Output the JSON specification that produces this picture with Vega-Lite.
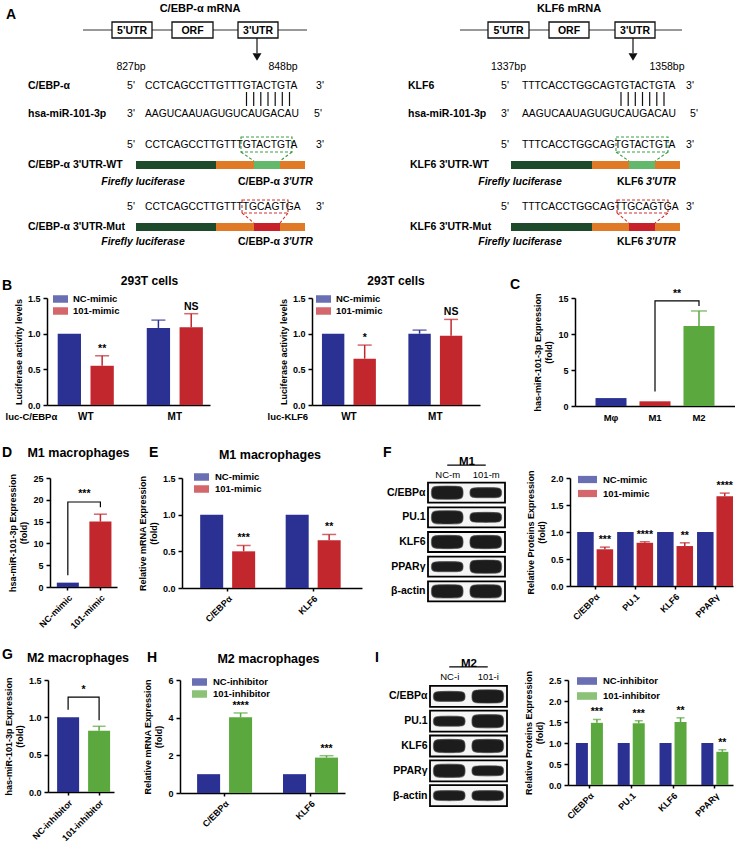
{
  "$schema": "https://vega.github.io/schema/vega-lite/v6.json",
  "padding": 0,
  "background": "white",
  "spacing": 0,
  "align": "each",
  "resolve": {"scale": {"color": "independent", "xOffset": "independent", "shape": "independent", "stroke": "independent"}, "legend": {"color": "independent"}},
  "config": {
    "font": "Liberation Sans",
    "view": {"stroke": null},
    "axis": {"grid": false, "labelOverlap": false, "domainColor": "#000", "domainWidth": 1.5, "tickColor": "#000", "tickWidth": 1.5, "tickSize": 4, "labelColor": "#000", "labelFontWeight": "bold", "labelFontSize": 9, "labelPadding": 3, "titleColor": "#000", "titleFontWeight": "bold", "titleFontSize": 9, "titlePadding": 4},
    "title": {"fontSize": 12.5, "fontWeight": "bold", "color": "#000", "anchor": "middle", "frame": "group", "baseline": "alphabetic"},
    "text": {"color": "#000"}
  },
  "datasets": {
    "s_rule_h": [{"x": 83, "x2": 307, "y": 30}, {"x": 460, "x2": 682, "y": 30}],
    "s_rule_v": [
      {"x": 246.5, "y": 92, "y2": 106}, {"x": 253.7, "y": 92, "y2": 106}, {"x": 260.8, "y": 92, "y2": 106}, {"x": 268, "y": 92, "y2": 106}, {"x": 275.2, "y": 92, "y2": 106}, {"x": 282.3, "y": 92, "y2": 106}, {"x": 289.5, "y": 92, "y2": 106},
      {"x": 621, "y": 92, "y2": 106}, {"x": 628.2, "y": 92, "y2": 106}, {"x": 635.3, "y": 92, "y2": 106}, {"x": 642.5, "y": 92, "y2": 106}, {"x": 649.7, "y": 92, "y2": 106}, {"x": 656.8, "y": 92, "y2": 106}, {"x": 664, "y": 92, "y2": 106},
      {"x": 257, "y": 38, "y2": 53}, {"x": 633, "y": 38, "y2": 53}
    ],
    "s_arrow": [{"x": 257, "y": 57}, {"x": 633, "y": 57}],
    "s_box": [
      {"x": 112, "x2": 152, "y": 22, "y2": 38}, {"x": 172, "x2": 213, "y": 22, "y2": 38}, {"x": 238, "x2": 278, "y": 22, "y2": 38},
      {"x": 488, "x2": 529, "y": 22, "y2": 38}, {"x": 549, "x2": 589, "y": 22, "y2": 38}, {"x": 615, "x2": 655, "y": 22, "y2": 38}
    ],
    "s_bar": [
      {"x": 136, "x2": 216, "y": 161, "y2": 169, "p": "luc"}, {"x": 216, "x2": 305, "y": 161, "y2": 169, "p": "utr"}, {"x": 254, "x2": 280, "y": 161, "y2": 169, "p": "wt"},
      {"x": 136, "x2": 216, "y": 223, "y2": 231, "p": "luc"}, {"x": 216, "x2": 305, "y": 223, "y2": 231, "p": "utr"}, {"x": 254, "x2": 280, "y": 223, "y2": 231, "p": "mut"},
      {"x": 511, "x2": 592, "y": 161, "y2": 169, "p": "luc"}, {"x": 592, "x2": 680, "y": 161, "y2": 169, "p": "utr"}, {"x": 629, "x2": 655, "y": 161, "y2": 169, "p": "wt"},
      {"x": 511, "x2": 592, "y": 223, "y2": 231, "p": "luc"}, {"x": 592, "x2": 680, "y": 223, "y2": 231, "p": "utr"}, {"x": 629, "x2": 655, "y": 223, "y2": 231, "p": "mut"}
    ],
    "s_dash_box": [
      {"x": 241, "x2": 292, "y": 137, "y2": 152, "k": "wt"}, {"x": 242, "x2": 288, "y": 200, "y2": 213, "k": "mut"},
      {"x": 616, "x2": 668, "y": 137, "y2": 152, "k": "wt"}, {"x": 617, "x2": 668, "y": 200, "y2": 213, "k": "mut"}
    ],
    "s_dash_line": [
      {"x": 241, "y": 152, "x2": 254, "y2": 161, "k": "wt"}, {"x": 292, "y": 152, "x2": 280, "y2": 161, "k": "wt"},
      {"x": 242, "y": 213, "x2": 254, "y2": 223, "k": "mut"}, {"x": 288, "y": 213, "x2": 280, "y2": 223, "k": "mut"},
      {"x": 616, "y": 152, "x2": 629, "y2": 161, "k": "wt"}, {"x": 668, "y": 152, "x2": 655, "y2": 161, "k": "wt"},
      {"x": 617, "y": 213, "x2": 629, "y2": 223, "k": "mut"}, {"x": 668, "y": 213, "x2": 655, "y2": 223, "k": "mut"}
    ],
    "s_bold_left": [
      {"x": 28, "y": 86, "t": "C/EBP-α"}, {"x": 28, "y": 114, "t": "hsa-miR-101-3p"}, {"x": 28, "y": 165, "t": "C/EBP-α  3'UTR-WT"}, {"x": 28, "y": 227, "t": "C/EBP-α 3'UTR-Mut"},
      {"x": 238, "y": 182, "t": "C/EBP-α"}, {"x": 238, "y": 242, "t": "C/EBP-α"},
      {"x": 408, "y": 86, "t": "KLF6"}, {"x": 408, "y": 114, "t": "hsa-miR-101-3p"}, {"x": 410, "y": 165, "t": "KLF6 3'UTR-WT"}, {"x": 410, "y": 227, "t": "KLF6 3'UTR-Mut"},
      {"x": 617, "y": 182, "t": "KLF6"}, {"x": 617, "y": 242, "t": "KLF6"}
    ],
    "s_bold_center": [
      {"x": 132, "y": 30.5, "t": "5'UTR"}, {"x": 192.5, "y": 30.5, "t": "ORF"}, {"x": 258, "y": 30.5, "t": "3'UTR"},
      {"x": 508.5, "y": 30.5, "t": "5'UTR"}, {"x": 569, "y": 30.5, "t": "ORF"}, {"x": 635, "y": 30.5, "t": "3'UTR"}
    ],
    "s_title": [{"x": 200, "y": 9, "t": "C/EBP-α mRNA"}, {"x": 569, "y": 9, "t": "KLF6 mRNA"}],
    "s_letter": [{"x": 6, "y": 15, "t": "A"}],
    "s_reg_center": [
      {"x": 131, "y": 67, "t": "827bp"}, {"x": 283, "y": 67, "t": "848bp"}, {"x": 508.5, "y": 67, "t": "1337bp"}, {"x": 667, "y": 67, "t": "1358bp"},
      {"x": 131, "y": 86, "t": "5'"}, {"x": 320, "y": 86, "t": "3'"}, {"x": 131, "y": 114, "t": "3'"}, {"x": 318, "y": 114, "t": "5'"},
      {"x": 131, "y": 145, "t": "5'"}, {"x": 320, "y": 145, "t": "3'"}, {"x": 131, "y": 207, "t": "5'"}, {"x": 320, "y": 207, "t": "3'"},
      {"x": 505, "y": 86, "t": "5'"}, {"x": 690, "y": 86, "t": "3'"}, {"x": 505, "y": 114, "t": "3'"}, {"x": 694, "y": 114, "t": "5'"},
      {"x": 505, "y": 145, "t": "5'"}, {"x": 690, "y": 145, "t": "3'"}, {"x": 505, "y": 207, "t": "5'"}, {"x": 690, "y": 207, "t": "3'"}
    ],
    "s_seq": [
      {"x": 145, "y": 86, "t": "CCTCAGCCTTGTTTGTACTGTA"}, {"x": 145, "y": 114, "t": "AAGUCAAUAGUGUCAUGACAU"}, {"x": 145, "y": 145, "t": "CCTCAGCCTTGTTTGTACTGTA"}, {"x": 145, "y": 207, "t": "CCTCAGCCTTGTTTTGCAGTGA"},
      {"x": 522, "y": 86, "t": "TTTCACCTGGCAGTGTACTGTA"}, {"x": 522, "y": 114, "t": "AAGUCAAUAGUGUCAUGACAU"}, {"x": 522, "y": 145, "t": "TTTCACCTGGCAGTGTACTGTA"}, {"x": 522, "y": 207, "t": "TTTCACCTGGCAGTTGCAGTGA"}
    ],
    "s_italic_center": [{"x": 143, "y": 182, "t": "Firefly luciferase"}, {"x": 143, "y": 242, "t": "Firefly luciferase"}, {"x": 520, "y": 182, "t": "Firefly luciferase"}, {"x": 520, "y": 242, "t": "Firefly luciferase"}],
    "s_italic_left": [{"x": 283, "y": 182, "t": "3'UTR"}, {"x": 283, "y": 242, "t": "3'UTR"}, {"x": 646, "y": 182, "t": "3'UTR"}, {"x": 646, "y": 242, "t": "3'UTR"}],
    "b1": [{"g": "WT", "t": "NC-mimic", "v": 1.0}, {"g": "WT", "t": "101-mimic", "v": 0.55, "u": 0.69, "s": "**"}, {"g": "MT", "t": "NC-mimic", "v": 1.08, "u": 1.19}, {"g": "MT", "t": "101-mimic", "v": 1.09, "u": 1.28, "s": "NS"}],
    "b2": [{"g": "WT", "t": "NC-mimic", "v": 1.0}, {"g": "WT", "t": "101-mimic", "v": 0.65, "u": 0.84, "s": "*"}, {"g": "MT", "t": "NC-mimic", "v": 1.0, "u": 1.05}, {"g": "MT", "t": "101-mimic", "v": 0.97, "u": 1.2, "s": "NS"}],
    "c": [{"g": "Mφ", "v": 1.1}, {"g": "M1", "v": 0.65}, {"g": "M2", "v": 11.1, "u": 13.2}],
    "c_br": [{"g": "M1", "y": 2, "o": 1}, {"g": "M1", "y": 14.6, "o": 2}, {"g": "M2", "y": 14.6, "o": 3}, {"g": "M2", "y": 13.9, "o": 4}],
    "d": [{"g": "NC-mimic", "v": 1.0}, {"g": "101-mimic", "v": 15.0, "u": 16.7}],
    "d_br": [{"g": "NC-mimic", "y": 2.7, "o": 1}, {"g": "NC-mimic", "y": 19.5, "o": 2}, {"g": "101-mimic", "y": 19.5, "o": 3}, {"g": "101-mimic", "y": 18.3, "o": 4}],
    "e": [{"g": "C/EBPα", "t": "NC-mimic", "v": 1.0}, {"g": "C/EBPα", "t": "101-mimic", "v": 0.5, "u": 0.58, "s": "***"}, {"g": "KLF6", "t": "NC-mimic", "v": 1.0}, {"g": "KLF6", "t": "101-mimic", "v": 0.65, "u": 0.73, "s": "**"}],
    "f": [
      {"g": "C/EBPα", "t": "NC-mimic", "v": 1.0}, {"g": "C/EBPα", "t": "101-mimic", "v": 0.68, "u": 0.72, "s": "***"},
      {"g": "PU.1", "t": "NC-mimic", "v": 1.0}, {"g": "PU.1", "t": "101-mimic", "v": 0.8, "u": 0.82, "s": "****"},
      {"g": "KLF6", "t": "NC-mimic", "v": 1.0}, {"g": "KLF6", "t": "101-mimic", "v": 0.74, "u": 0.8, "s": "**"},
      {"g": "PPARγ", "t": "NC-mimic", "v": 1.0}, {"g": "PPARγ", "t": "101-mimic", "v": 1.66, "u": 1.72, "s": "****"}
    ],
    "g": [{"g": "NC-inhibitor", "v": 1.0}, {"g": "101-inhibitor", "v": 0.82, "u": 0.88}],
    "g_br": [{"g": "NC-inhibitor", "y": 1.1, "o": 1}, {"g": "NC-inhibitor", "y": 1.27, "o": 2}, {"g": "101-inhibitor", "y": 1.27, "o": 3}, {"g": "101-inhibitor", "y": 0.96, "o": 4}],
    "h": [{"g": "C/EBPα", "t": "NC-inhibitor", "v": 1.0}, {"g": "C/EBPα", "t": "101-inhibitor", "v": 4.02, "u": 4.25, "s": "****"}, {"g": "KLF6", "t": "NC-inhibitor", "v": 1.0}, {"g": "KLF6", "t": "101-inhibitor", "v": 1.88, "u": 1.98, "s": "***"}],
    "i": [
      {"g": "C/EBPα", "t": "NC-inhibitor", "v": 1.0}, {"g": "C/EBPα", "t": "101-inhibitor", "v": 1.48, "u": 1.56, "s": "***"},
      {"g": "PU.1", "t": "NC-inhibitor", "v": 1.0}, {"g": "PU.1", "t": "101-inhibitor", "v": 1.47, "u": 1.53, "s": "***"},
      {"g": "KLF6", "t": "NC-inhibitor", "v": 1.0}, {"g": "KLF6", "t": "101-inhibitor", "v": 1.5, "u": 1.6, "s": "**"},
      {"g": "PPARγ", "t": "NC-inhibitor", "v": 1.0}, {"g": "PPARγ", "t": "101-inhibitor", "v": 0.79, "u": 0.84, "s": "**"}
    ],
    "proteins": [{"p": "C/EBPα"}, {"p": "PU.1"}, {"p": "KLF6"}, {"p": "PPARγ"}, {"p": "β-actin"}],
    "blot_f": [
      {"p": "C/EBPα", "lane": "NC-m", "lvl": "strong"}, {"p": "C/EBPα", "lane": "101-m", "lvl": "medium"},
      {"p": "PU.1", "lane": "NC-m", "lvl": "strong"}, {"p": "PU.1", "lane": "101-m", "lvl": "medium"},
      {"p": "KLF6", "lane": "NC-m", "lvl": "strong"}, {"p": "KLF6", "lane": "101-m", "lvl": "strong"},
      {"p": "PPARγ", "lane": "NC-m", "lvl": "medium"}, {"p": "PPARγ", "lane": "101-m", "lvl": "strong"},
      {"p": "β-actin", "lane": "NC-m", "lvl": "strong"}, {"p": "β-actin", "lane": "101-m", "lvl": "strong"}
    ],
    "blot_i": [
      {"p": "C/EBPα", "lane": "NC-i", "lvl": "medium"}, {"p": "C/EBPα", "lane": "101-i", "lvl": "strong"},
      {"p": "PU.1", "lane": "NC-i", "lvl": "medium"}, {"p": "PU.1", "lane": "101-i", "lvl": "strong"},
      {"p": "KLF6", "lane": "NC-i", "lvl": "strong"}, {"p": "KLF6", "lane": "101-i", "lvl": "strong"},
      {"p": "PPARγ", "lane": "NC-i", "lvl": "strong"}, {"p": "PPARγ", "lane": "101-i", "lvl": "medium"},
      {"p": "β-actin", "lane": "NC-i", "lvl": "medium"}, {"p": "β-actin", "lane": "101-i", "lvl": "medium"}
    ],
    "hdr_f": [{"lane": "NC-m", "h": 1.1}, {"lane": "101-m", "h": 1.1}],
    "hdr_i": [{"lane": "NC-i", "h": 1.1}, {"lane": "101-i", "h": 1.1}],
    "one": [{"k": 1}]
  },
  "vconcat": [
    {
      "width": 733, "height": 251,
      "encoding": {
        "x": {"field": "x", "type": "quantitative", "scale": {"domain": [0, 733], "nice": false, "zero": false}, "axis": null},
        "y": {"field": "y", "type": "quantitative", "scale": {"domain": [0, 251], "nice": false, "zero": false, "reverse": true}, "axis": null}
      },
      "layer": [
        {"data": {"name": "s_rule_h"}, "mark": {"type": "rule", "color": "#333", "strokeWidth": 1}, "encoding": {"x2": {"field": "x2"}}},
        {"data": {"name": "s_rule_v"}, "mark": {"type": "rule", "color": "#111", "strokeWidth": 1.2}, "encoding": {"y2": {"field": "y2"}}},
        {"data": {"name": "s_arrow"}, "mark": {"type": "point", "shape": "triangle-down", "filled": true, "color": "#111", "size": 80, "opacity": 1}, "encoding": {}},
        {"data": {"name": "s_box"}, "mark": {"type": "rect", "fill": "#fff", "stroke": "#111", "strokeWidth": 1.3}, "encoding": {"x2": {"field": "x2"}, "y2": {"field": "y2"}}},
        {"data": {"name": "s_bar"}, "mark": {"type": "rect", "opacity": 1}, "encoding": {"x2": {"field": "x2"}, "y2": {"field": "y2"}, "color": {"field": "p", "type": "nominal", "scale": {"domain": ["luc", "utr", "wt", "mut"], "range": ["#1d4a2a", "#e07a27", "#62b86b", "#c8202b"]}, "legend": null}}},
        {"data": {"name": "s_dash_box"}, "mark": {"type": "rect", "fill": null, "filled": false, "strokeDash": [3, 2], "strokeWidth": 1.1}, "encoding": {"x2": {"field": "x2"}, "y2": {"field": "y2"}, "stroke": {"field": "k", "type": "nominal", "scale": {"domain": ["wt", "mut"], "range": ["#3a9b48", "#d0312d"]}, "legend": null}}},
        {"data": {"name": "s_dash_line"}, "mark": {"type": "rule", "strokeDash": [3, 2], "strokeWidth": 1.1}, "encoding": {"x2": {"field": "x2"}, "y2": {"field": "y2"}, "stroke": {"field": "k", "type": "nominal", "legend": null}}},
        {"data": {"name": "s_bold_left"}, "mark": {"type": "text", "align": "left", "baseline": "middle", "fontWeight": "bold", "fontSize": 10.5}, "encoding": {"text": {"field": "t"}}},
        {"data": {"name": "s_bold_center"}, "mark": {"type": "text", "align": "center", "baseline": "middle", "fontWeight": "bold", "fontSize": 10.5}, "encoding": {"text": {"field": "t"}}},
        {"data": {"name": "s_title"}, "mark": {"type": "text", "align": "center", "baseline": "middle", "fontWeight": "bold", "fontSize": 11}, "encoding": {"text": {"field": "t"}}},
        {"data": {"name": "s_letter"}, "mark": {"type": "text", "align": "left", "baseline": "middle", "fontWeight": "bold", "fontSize": 14}, "encoding": {"text": {"field": "t"}}},
        {"data": {"name": "s_reg_center"}, "mark": {"type": "text", "align": "center", "baseline": "middle", "fontSize": 10.5}, "encoding": {"text": {"field": "t"}}},
        {"data": {"name": "s_seq"}, "mark": {"type": "text", "align": "left", "baseline": "middle", "fontSize": 10.3}, "encoding": {"text": {"field": "t"}}},
        {"data": {"name": "s_italic_center"}, "mark": {"type": "text", "align": "center", "baseline": "middle", "fontWeight": "bold", "fontStyle": "italic", "fontSize": 10.5}, "encoding": {"text": {"field": "t"}}},
        {"data": {"name": "s_italic_left"}, "mark": {"type": "text", "align": "left", "baseline": "middle", "fontWeight": "bold", "fontStyle": "italic", "fontSize": 10.5}, "encoding": {"text": {"field": "t"}}}
      ]
    },
    {
      "spacing": 0, "bounds": "flush",
      "resolve": {"scale": {"color": "independent", "xOffset": "independent", "shape": "independent"}, "legend": {"color": "independent"}},
      "hconcat": [
        {"width": 47, "height": 133, "title": {"text": "B", "anchor": "start", "dx": 2, "offset": 5, "fontSize": 14}, "data": {"name": "one"}, "mark": "text", "encoding": {"text": {"value": ""}}},
        {
          "width": 163, "height": 107,
          "title": {"text": "293T cells", "dx": 21, "offset": 4, "fontSize": 12},
          "data": {"name": "b1"},
          "encoding": {
            "x": {"field": "g", "type": "nominal", "scale": {"domain": ["WT", "MT"], "paddingInner": 0.37, "paddingOuter": 0.1, "align": 0.6}, "axis": {"title": "luc-C/EBPα", "titleX": -42, "titleY": 11, "titleAlign": "left", "titleBaseline": "middle", "titleFontSize": 9.5, "labelAngle": 0, "ticks": false, "tickSize": 0, "labelPadding": 6, "labelFontSize": 10}},
            "xOffset": {"field": "t", "type": "nominal", "scale": {"domain": ["NC-mimic", "101-mimic"], "paddingInner": 0.29, "paddingOuter": 0}},
            "color": {"field": "t", "type": "nominal", "scale": {"domain": ["NC-mimic", "101-mimic"], "range": ["#2b3192", "#c1272d"]}, "legend": {"title": null, "orient": "none", "legendX": 6, "legendY": -6.5, "symbolType": "M-1,-0.5H1V0.5H-1Z", "symbolSize": 225, "symbolStrokeWidth": 0, "labelFontSize": 9.5, "labelFontWeight": "bold", "labelOffset": 5, "rowPadding": -1, "padding": 0}}
          },
          "layer": [
            {"mark": "bar", "encoding": {"y": {"field": "v", "type": "quantitative", "scale": {"domain": [0, 1.5], "nice": false}, "axis": {"values": [0, 0.5, 1, 1.5], "tickCount": 4, "format": ".1f", "title": "Luciferase activity levels"}}}},
            {"transform": [{"filter": "isValid(datum.u)"}], "mark": {"type": "rule", "strokeWidth": 1.5}, "encoding": {"y": {"field": "v", "type": "quantitative"}, "y2": {"field": "u"}}},
            {"transform": [{"filter": "isValid(datum.u)"}], "mark": {"type": "tick", "thickness": 1.5, "size": 14}, "encoding": {"y": {"field": "u", "type": "quantitative"}}},
            {"transform": [{"filter": "isValid(datum.s)"}], "mark": {"type": "text", "baseline": "bottom", "dy": -2, "fontWeight": "bold", "fontSize": 10.5}, "encoding": {"y": {"field": "u", "type": "quantitative"}, "text": {"field": "s"}, "color": {"value": "#000"}}}
          ]
        },
        {"width": 102, "height": 133, "title": {"text": "|", "color": "rgba(0,0,0,0)", "fontSize": 10, "offset": 37}, "data": {"name": "one"}, "mark": "text", "encoding": {"text": {"value": ""}}},
        {
          "width": 168, "height": 107,
          "title": {"text": "293T cells", "dx": 0, "offset": 4, "fontSize": 12},
          "data": {"name": "b2"},
          "encoding": {
            "x": {"field": "g", "type": "nominal", "scale": {"domain": ["WT", "MT"], "paddingInner": 0.376, "paddingOuter": 0.16, "align": 0.36}, "axis": {"title": "luc-KLF6", "titleX": -45, "titleY": 11, "titleAlign": "left", "titleBaseline": "middle", "titleFontSize": 9.5, "labelAngle": 0, "ticks": false, "tickSize": 0, "labelPadding": 6, "labelFontSize": 10}},
            "xOffset": {"field": "t", "type": "nominal", "scale": {"domain": ["NC-mimic", "101-mimic"], "paddingInner": 0.29, "paddingOuter": 0}},
            "color": {"field": "t", "type": "nominal", "scale": {"domain": ["NC-mimic", "101-mimic"], "range": ["#2b3192", "#c1272d"]}, "legend": {"title": null, "orient": "none", "legendX": 4, "legendY": -6.5, "symbolType": "M-1,-0.5H1V0.5H-1Z", "symbolSize": 225, "symbolStrokeWidth": 0, "labelFontSize": 9.5, "labelFontWeight": "bold", "labelOffset": 5, "rowPadding": -1, "padding": 0}}
          },
          "layer": [
            {"mark": "bar", "encoding": {"y": {"field": "v", "type": "quantitative", "scale": {"domain": [0, 1.5], "nice": false}, "axis": {"values": [0, 0.5, 1, 1.5], "tickCount": 4, "format": ".1f", "title": "Luciferase activity levels"}}}},
            {"transform": [{"filter": "isValid(datum.u)"}], "mark": {"type": "rule", "strokeWidth": 1.5}, "encoding": {"y": {"field": "v", "type": "quantitative"}, "y2": {"field": "u"}}},
            {"transform": [{"filter": "isValid(datum.u)"}], "mark": {"type": "tick", "thickness": 1.5, "size": 14}, "encoding": {"y": {"field": "u", "type": "quantitative"}}},
            {"transform": [{"filter": "isValid(datum.s)"}], "mark": {"type": "text", "baseline": "bottom", "dy": -2, "fontWeight": "bold", "fontSize": 10.5}, "encoding": {"y": {"field": "u", "type": "quantitative"}, "text": {"field": "s"}, "color": {"value": "#000"}}}
          ]
        },
        {"width": 95, "height": 133, "title": {"text": "C", "anchor": "start", "dx": 30, "offset": 6, "fontSize": 14}, "data": {"name": "one"}, "mark": "text", "encoding": {"text": {"value": ""}}},
        {
          "width": 160, "height": 108,
          "layer": [
            {"data": {"name": "c"}, "mark": "bar", "encoding": {
              "x": {"field": "g", "type": "nominal", "scale": {"domain": ["Mφ", "M1", "M2"], "paddingInner": 0.295, "paddingOuter": 0.466}, "axis": {"title": null, "labelAngle": 0, "ticks": false, "tickSize": 0, "labelPadding": 6, "labelFontSize": 9.5}},
              "y": {"field": "v", "type": "quantitative", "scale": {"domain": [0, 15], "nice": false}, "axis": {"values": [0, 5, 10, 15], "tickCount": 4, "title": ["has-miR-101-3p Expression", "(fold)"]}},
              "color": {"field": "g", "type": "nominal", "scale": {"domain": ["Mφ", "M1", "M2"], "range": ["#2b3192", "#c1272d", "#5aa83e"]}, "legend": null}}},
            {"data": {"name": "c"}, "transform": [{"filter": "isValid(datum.u)"}], "mark": {"type": "rule", "strokeWidth": 1.5}, "encoding": {"x": {"field": "g", "type": "nominal"}, "y": {"field": "v", "type": "quantitative"}, "y2": {"field": "u"}, "color": {"field": "g", "type": "nominal"}}},
            {"data": {"name": "c"}, "transform": [{"filter": "isValid(datum.u)"}], "mark": {"type": "tick", "thickness": 1.5, "size": 16}, "encoding": {"x": {"field": "g", "type": "nominal"}, "y": {"field": "u", "type": "quantitative"}, "color": {"field": "g", "type": "nominal"}}},
            {"data": {"name": "c_br"}, "mark": {"type": "line", "color": "#000", "strokeWidth": 1.2}, "encoding": {"x": {"field": "g", "type": "nominal"}, "y": {"field": "y", "type": "quantitative"}, "order": {"field": "o", "type": "quantitative"}}},
            {"data": {"values": [{"g": "M2", "y": 14.8, "s": "**"}]}, "mark": {"type": "text", "baseline": "bottom", "dx": -22, "fontWeight": "bold", "fontSize": 10.5}, "encoding": {"x": {"field": "g", "type": "nominal"}, "y": {"field": "y", "type": "quantitative"}, "text": {"field": "s"}}}
          ]
        }
      ]
    },
    {
      "spacing": 0, "bounds": "flush",
      "resolve": {"scale": {"color": "independent", "xOffset": "independent", "shape": "independent"}, "legend": {"color": "independent"}},
      "hconcat": [
        {"width": 50, "height": 155, "title": {"text": "D", "anchor": "start", "dx": 2, "offset": 18, "fontSize": 14}, "data": {"name": "one"}, "mark": "text", "encoding": {"text": {"value": ""}}},
        {
          "width": 67, "height": 109,
          "title": {"text": "M1 macrophages", "dx": -5, "offset": 14},
          "layer": [
            {"data": {"name": "d"}, "mark": "bar", "encoding": {
              "x": {"field": "g", "type": "nominal", "scale": {"domain": ["NC-mimic", "101-mimic"], "paddingInner": 0.323, "paddingOuter": 0.19, "align": 0.55}, "axis": {"title": null, "labelAngle": -45, "tickSize": 3, "labelFontSize": 9}},
              "y": {"field": "v", "type": "quantitative", "scale": {"domain": [0, 25], "nice": false}, "axis": {"values": [0, 5, 10, 15, 20, 25], "tickCount": 6, "title": ["hsa-miR-101-3p Expression", "(fold)"]}},
              "color": {"field": "g", "type": "nominal", "scale": {"domain": ["NC-mimic", "101-mimic"], "range": ["#2b3192", "#c1272d"]}, "legend": null}}},
            {"data": {"name": "d"}, "transform": [{"filter": "isValid(datum.u)"}], "mark": {"type": "rule", "strokeWidth": 1.5}, "encoding": {"x": {"field": "g", "type": "nominal"}, "y": {"field": "v", "type": "quantitative"}, "y2": {"field": "u"}, "color": {"field": "g", "type": "nominal"}}},
            {"data": {"name": "d"}, "transform": [{"filter": "isValid(datum.u)"}], "mark": {"type": "tick", "thickness": 1.5, "size": 13}, "encoding": {"x": {"field": "g", "type": "nominal"}, "y": {"field": "u", "type": "quantitative"}, "color": {"field": "g", "type": "nominal"}}},
            {"data": {"name": "d_br"}, "mark": {"type": "line", "color": "#000", "strokeWidth": 1.2}, "encoding": {"x": {"field": "g", "type": "nominal"}, "y": {"field": "y", "type": "quantitative"}, "order": {"field": "o", "type": "quantitative"}}},
            {"data": {"values": [{"g": "101-mimic", "y": 20.2, "s": "***"}]}, "mark": {"type": "text", "baseline": "bottom", "dx": -16, "fontWeight": "bold", "fontSize": 10.5}, "encoding": {"x": {"field": "g", "type": "nominal"}, "y": {"field": "y", "type": "quantitative"}, "text": {"field": "s"}}}
          ]
        },
        {"width": 65, "height": 155, "title": {"text": "E", "anchor": "start", "dx": 32, "offset": 18, "fontSize": 14}, "data": {"name": "one"}, "mark": "text", "encoding": {"text": {"value": ""}}},
        {
          "width": 180, "height": 110,
          "title": {"text": "M1 macrophages", "dx": -2, "offset": 8},
          "data": {"name": "e"},
          "encoding": {
            "x": {"field": "g", "type": "nominal", "scale": {"domain": ["C/EBPα", "KLF6"], "paddingInner": 0.357, "paddingOuter": 0.231, "align": 0.46}, "axis": {"title": null, "labelAngle": -45, "tickSize": 3, "labelFontSize": 9}},
            "xOffset": {"field": "t", "type": "nominal", "scale": {"domain": ["NC-mimic", "101-mimic"], "paddingInner": 0.28, "paddingOuter": 0}},
            "color": {"field": "t", "type": "nominal", "scale": {"domain": ["NC-mimic", "101-mimic"], "range": ["#2b3192", "#c1272d"]}, "legend": {"title": null, "orient": "none", "legendX": 12, "legendY": -8.5, "symbolType": "M-1,-0.5H1V0.5H-1Z", "symbolSize": 225, "symbolStrokeWidth": 0, "labelFontSize": 9.5, "labelFontWeight": "bold", "labelOffset": 6, "rowPadding": -1, "padding": 0}}
          },
          "layer": [
            {"mark": "bar", "encoding": {"y": {"field": "v", "type": "quantitative", "scale": {"domain": [0, 1.5], "nice": false}, "axis": {"values": [0, 0.5, 1, 1.5], "tickCount": 4, "format": ".1f", "title": ["Relative mRNA Expression", "(fold)"]}}}},
            {"transform": [{"filter": "isValid(datum.u)"}], "mark": {"type": "rule", "strokeWidth": 1.5}, "encoding": {"y": {"field": "v", "type": "quantitative"}, "y2": {"field": "u"}}},
            {"transform": [{"filter": "isValid(datum.u)"}], "mark": {"type": "tick", "thickness": 1.5, "size": 14}, "encoding": {"y": {"field": "u", "type": "quantitative"}}},
            {"transform": [{"filter": "isValid(datum.s)"}], "mark": {"type": "text", "baseline": "bottom", "dy": -2, "fontWeight": "bold", "fontSize": 10.5}, "encoding": {"y": {"field": "u", "type": "quantitative"}, "text": {"field": "s"}, "color": {"value": "#000"}}}
          ]
        },
        {"width": 66, "height": 155, "title": {"text": "F", "anchor": "start", "dx": 21, "offset": 18, "fontSize": 14}, "data": {"name": "one"}, "mark": "text", "encoding": {"text": {"value": ""}}},
        {
          "width": 77, "height": 128,
          "resolve": {"scale": {"y": "independent"}},
          "layer": [
            {
              "layer": [
                {"data": {"name": "proteins"}, "mark": {"type": "rect", "fill": "#f5f5f5", "stroke": "#000", "strokeWidth": 1.8}, "encoding": {
                  "y": {"field": "p", "type": "nominal", "scale": {"domain": ["C/EBPα", "PU.1", "KLF6", "PPARγ", "β-actin"], "paddingInner": 0.19, "paddingOuter": 0.19}, "axis": {"title": null, "domain": false, "ticks": false, "tickSize": 0, "labelPadding": 3, "labelFontSize": 10.5, "labelFontWeight": "bold"}},
                  "x": {"value": 0}, "x2": {"value": "width"}}},
                {"data": {"name": "blot_f"}, "mark": {"type": "point", "filled": true, "fill": "#111", "opacity": 0.95, "size": 1000, "stroke": "#444", "strokeWidth": 1.2, "strokeOpacity": 0.6}, "encoding": {
                  "x": {"field": "lane", "type": "nominal", "scale": {"domain": ["NC-m", "101-m"], "paddingInner": 0, "paddingOuter": 0.1}, "axis": {"orient": "top", "title": "M1", "titleFontSize": 11.5, "titlePadding": 3, "domain": false, "ticks": false, "tickSize": 0, "labelPadding": -1, "labelFontWeight": "normal", "labelFontSize": 9.5, "labelAngle": 0}},
                  "y": {"field": "p", "type": "nominal"},
                  "shape": {"field": "lvl", "type": "nominal", "scale": {"domain": ["strong", "medium", "weak"], "range": ["M-1,0C-1,-0.42,-0.9,-0.42,0,-0.42C0.9,-0.42,1,-0.42,1,0C1,0.42,0.9,0.42,0,0.42C-0.9,0.42,-1,0.42,-1,0Z", "M-1,0C-1,-0.32,-0.9,-0.32,0,-0.32C0.9,-0.32,1,-0.32,1,0C1,0.32,0.9,0.32,0,0.32C-0.9,0.32,-1,0.32,-1,0Z", "M-1,0C-1,-0.24,-0.9,-0.24,0,-0.24C0.9,-0.24,1,-0.24,1,0C1,0.24,0.9,0.24,0,0.24C-0.9,0.24,-1,0.24,-1,0Z"]}, "legend": null}}}
              ]
            },
            {"data": {"name": "hdr_f"}, "mark": {"type": "line", "color": "#000", "strokeWidth": 1.2}, "encoding": {"x": {"field": "lane", "type": "nominal"}, "y": {"field": "h", "type": "quantitative", "scale": {"domain": [0, 1], "nice": false}, "axis": null}}}
          ]
        },
        {"width": 65, "height": 155, "title": {"text": "|", "color": "rgba(0,0,0,0)", "fontSize": 10, "offset": 37}, "data": {"name": "one"}, "mark": "text", "encoding": {"text": {"value": ""}}},
        {
          "width": 163, "height": 108,
          "data": {"name": "f"},
          "encoding": {
            "x": {"field": "g", "type": "nominal", "scale": {"domain": ["C/EBPα", "PU.1", "KLF6", "PPARγ"], "paddingInner": 0.1, "paddingOuter": 0.09, "align": 1}, "axis": {"title": null, "labelAngle": -45, "tickSize": 3, "labelFontSize": 9}},
            "xOffset": {"field": "t", "type": "nominal", "scale": {"domain": ["NC-mimic", "101-mimic"], "paddingInner": 0.15, "paddingOuter": 0}},
            "color": {"field": "t", "type": "nominal", "scale": {"domain": ["NC-mimic", "101-mimic"], "range": ["#2b3192", "#c1272d"]}, "legend": {"title": null, "orient": "none", "legendX": 8, "legendY": -8, "symbolType": "M-1,-0.38H1V0.38H-1Z", "symbolSize": 361, "symbolStrokeWidth": 0, "labelFontSize": 9.5, "labelFontWeight": "bold", "labelOffset": 6, "rowPadding": -3.5, "padding": 0}}
          },
          "layer": [
            {"mark": "bar", "encoding": {"y": {"field": "v", "type": "quantitative", "scale": {"domain": [0, 2], "nice": false}, "axis": {"values": [0, 0.5, 1, 1.5, 2], "tickCount": 5, "format": ".1f", "title": ["Relative Proteins Expression", "(fold)"]}}}},
            {"transform": [{"filter": "isValid(datum.u)"}], "mark": {"type": "rule", "strokeWidth": 1.5}, "encoding": {"y": {"field": "v", "type": "quantitative"}, "y2": {"field": "u"}}},
            {"transform": [{"filter": "isValid(datum.u)"}], "mark": {"type": "tick", "thickness": 1.5, "size": 10}, "encoding": {"y": {"field": "u", "type": "quantitative"}}},
            {"transform": [{"filter": "isValid(datum.s)"}], "mark": {"type": "text", "baseline": "bottom", "dy": -2, "fontWeight": "bold", "fontSize": 10.5}, "encoding": {"y": {"field": "u", "type": "quantitative"}, "text": {"field": "s"}, "color": {"value": "#000"}}}
          ]
        }
      ]
    },
    {
      "spacing": 0, "bounds": "flush",
      "resolve": {"scale": {"color": "independent", "xOffset": "independent", "shape": "independent"}, "legend": {"color": "independent"}},
      "hconcat": [
        {"width": 48, "height": 120, "title": {"text": "G", "anchor": "start", "dx": 2, "offset": 18, "fontSize": 14}, "data": {"name": "one"}, "mark": "text", "encoding": {"text": {"value": ""}}},
        {
          "width": 66, "height": 112,
          "title": {"text": "M2 macrophages", "dx": -3, "offset": 12},
          "layer": [
            {"data": {"name": "g"}, "mark": "bar", "encoding": {
              "x": {"field": "g", "type": "nominal", "scale": {"domain": ["NC-inhibitor", "101-inhibitor"], "paddingInner": 0.29, "paddingOuter": 0.21, "align": 0.7}, "axis": {"title": null, "labelAngle": -45, "tickSize": 3, "labelFontSize": 9}},
              "y": {"field": "v", "type": "quantitative", "scale": {"domain": [0, 1.5], "nice": false}, "axis": {"values": [0, 0.5, 1, 1.5], "tickCount": 4, "format": ".1f", "title": ["has-miR-101-3p Expression", "(fold)"]}},
              "color": {"field": "g", "type": "nominal", "scale": {"domain": ["NC-inhibitor", "101-inhibitor"], "range": ["#2b3192", "#5aa83e"]}, "legend": null}}},
            {"data": {"name": "g"}, "transform": [{"filter": "isValid(datum.u)"}], "mark": {"type": "rule", "strokeWidth": 1.5}, "encoding": {"x": {"field": "g", "type": "nominal"}, "y": {"field": "v", "type": "quantitative"}, "y2": {"field": "u"}, "color": {"field": "g", "type": "nominal"}}},
            {"data": {"name": "g"}, "transform": [{"filter": "isValid(datum.u)"}], "mark": {"type": "tick", "thickness": 1.5, "size": 13}, "encoding": {"x": {"field": "g", "type": "nominal"}, "y": {"field": "u", "type": "quantitative"}, "color": {"field": "g", "type": "nominal"}}},
            {"data": {"name": "g_br"}, "mark": {"type": "line", "color": "#000", "strokeWidth": 1.2}, "encoding": {"x": {"field": "g", "type": "nominal"}, "y": {"field": "y", "type": "quantitative"}, "order": {"field": "o", "type": "quantitative"}}},
            {"data": {"values": [{"g": "101-inhibitor", "y": 1.3, "s": "*"}]}, "mark": {"type": "text", "baseline": "bottom", "dx": -15.5, "fontWeight": "bold", "fontSize": 10.5}, "encoding": {"x": {"field": "g", "type": "nominal"}, "y": {"field": "y", "type": "quantitative"}, "text": {"field": "s"}}}
          ]
        },
        {"width": 66, "height": 120, "title": {"text": "H", "anchor": "start", "dx": 33, "offset": 15, "fontSize": 14}, "data": {"name": "one"}, "mark": "text", "encoding": {"text": {"value": ""}}},
        {
          "width": 165, "height": 113,
          "title": {"text": "M2 macrophages", "dx": 6, "offset": 9},
          "data": {"name": "h"},
          "encoding": {
            "x": {"field": "g", "type": "nominal", "scale": {"domain": ["C/EBPα", "KLF6"], "paddingInner": 0.36, "paddingOuter": 0.14, "align": 0.71}, "axis": {"title": null, "labelAngle": -45, "tickSize": 3, "labelFontSize": 9}},
            "xOffset": {"field": "t", "type": "nominal", "scale": {"domain": ["NC-inhibitor", "101-inhibitor"], "paddingInner": 0.28, "paddingOuter": 0}},
            "color": {"field": "t", "type": "nominal", "scale": {"domain": ["NC-inhibitor", "101-inhibitor"], "range": ["#2b3192", "#5aa83e"]}, "legend": {"title": null, "orient": "none", "legendX": 12, "legendY": -5.5, "symbolType": "M-1,-0.5H1V0.5H-1Z", "symbolSize": 225, "symbolStrokeWidth": 0, "labelFontSize": 9.5, "labelFontWeight": "bold", "labelOffset": 6, "rowPadding": -1, "padding": 0}}
          },
          "layer": [
            {"mark": "bar", "encoding": {"y": {"field": "v", "type": "quantitative", "scale": {"domain": [0, 6], "nice": false}, "axis": {"values": [0, 2, 4, 6], "tickCount": 4, "title": ["Relative mRNA Expression", "(fold)"]}}}},
            {"transform": [{"filter": "isValid(datum.u)"}], "mark": {"type": "rule", "strokeWidth": 1.5}, "encoding": {"y": {"field": "v", "type": "quantitative"}, "y2": {"field": "u"}}},
            {"transform": [{"filter": "isValid(datum.u)"}], "mark": {"type": "tick", "thickness": 1.5, "size": 14}, "encoding": {"y": {"field": "u", "type": "quantitative"}}},
            {"transform": [{"filter": "isValid(datum.s)"}], "mark": {"type": "text", "baseline": "bottom", "dy": -2, "fontWeight": "bold", "fontSize": 10.5}, "encoding": {"y": {"field": "u", "type": "quantitative"}, "text": {"field": "s"}, "color": {"value": "#000"}}}
          ]
        },
        {"width": 85, "height": 120, "title": {"text": "I", "anchor": "start", "dx": 30, "offset": 15, "fontSize": 14}, "data": {"name": "one"}, "mark": "text", "encoding": {"text": {"value": ""}}},
        {
          "width": 77, "height": 132,
          "resolve": {"scale": {"y": "independent"}},
          "layer": [
            {
              "layer": [
                {"data": {"name": "proteins"}, "mark": {"type": "rect", "fill": "#f5f5f5", "stroke": "#000", "strokeWidth": 1.8}, "encoding": {
                  "y": {"field": "p", "type": "nominal", "scale": {"domain": ["C/EBPα", "PU.1", "KLF6", "PPARγ", "β-actin"], "paddingInner": 0.153, "paddingOuter": 0.238}, "axis": {"title": null, "domain": false, "ticks": false, "tickSize": 0, "labelPadding": 3, "labelFontSize": 10.5, "labelFontWeight": "bold"}},
                  "x": {"value": 0}, "x2": {"value": "width"}}},
                {"data": {"name": "blot_i"}, "mark": {"type": "point", "filled": true, "fill": "#111", "opacity": 0.95, "size": 1000, "stroke": "#444", "strokeWidth": 1.2, "strokeOpacity": 0.6}, "encoding": {
                  "x": {"field": "lane", "type": "nominal", "scale": {"domain": ["NC-i", "101-i"], "paddingInner": 0, "paddingOuter": 0.08}, "axis": {"orient": "top", "title": "M2", "titleFontSize": 11.5, "titlePadding": 3, "domain": false, "ticks": false, "tickSize": 0, "labelPadding": -1, "labelFontWeight": "normal", "labelFontSize": 9.5, "labelAngle": 0}},
                  "y": {"field": "p", "type": "nominal"},
                  "shape": {"field": "lvl", "type": "nominal", "scale": {"domain": ["strong", "medium", "weak"], "range": ["M-1,0C-1,-0.42,-0.9,-0.42,0,-0.42C0.9,-0.42,1,-0.42,1,0C1,0.42,0.9,0.42,0,0.42C-0.9,0.42,-1,0.42,-1,0Z", "M-1,0C-1,-0.32,-0.9,-0.32,0,-0.32C0.9,-0.32,1,-0.32,1,0C1,0.32,0.9,0.32,0,0.32C-0.9,0.32,-1,0.32,-1,0Z", "M-1,0C-1,-0.24,-0.9,-0.24,0,-0.24C0.9,-0.24,1,-0.24,1,0C1,0.24,0.9,0.24,0,0.24C-0.9,0.24,-1,0.24,-1,0Z"]}, "legend": null}}}
              ]
            },
            {"data": {"name": "hdr_i"}, "mark": {"type": "line", "color": "#000", "strokeWidth": 1.2}, "encoding": {"x": {"field": "lane", "type": "nominal"}, "y": {"field": "h", "type": "quantitative", "scale": {"domain": [0, 1], "nice": false}, "axis": null}}}
          ]
        },
        {"width": 61, "height": 120, "title": {"text": "|", "color": "rgba(0,0,0,0)", "fontSize": 10, "offset": 37}, "data": {"name": "one"}, "mark": "text", "encoding": {"text": {"value": ""}}},
        {
          "width": 165, "height": 105,
          "data": {"name": "i"},
          "encoding": {
            "x": {"field": "g", "type": "nominal", "scale": {"domain": ["C/EBPα", "PU.1", "KLF6", "PPARγ"], "paddingInner": 0.354, "paddingOuter": 0.15, "align": 0.63}, "axis": {"title": null, "labelAngle": -45, "tickSize": 3, "labelFontSize": 9}},
            "xOffset": {"field": "t", "type": "nominal", "scale": {"domain": ["NC-inhibitor", "101-inhibitor"], "paddingInner": 0.2, "paddingOuter": 0}},
            "color": {"field": "t", "type": "nominal", "scale": {"domain": ["NC-inhibitor", "101-inhibitor"], "range": ["#2b3192", "#5aa83e"]}, "legend": {"title": null, "orient": "none", "legendX": 9, "legendY": -9, "symbolType": "M-1,-0.38H1V0.38H-1Z", "symbolSize": 400, "symbolStrokeWidth": 0, "labelFontSize": 9.5, "labelFontWeight": "bold", "labelOffset": 6, "rowPadding": -6, "padding": 0}}
          },
          "layer": [
            {"mark": "bar", "encoding": {"y": {"field": "v", "type": "quantitative", "scale": {"domain": [0, 2.5], "nice": false}, "axis": {"values": [0, 0.5, 1, 1.5, 2, 2.5], "tickCount": 6, "format": ".1f", "title": ["Relative Proteins Expression", "(fold)"]}}}},
            {"transform": [{"filter": "isValid(datum.u)"}], "mark": {"type": "rule", "strokeWidth": 1.5}, "encoding": {"y": {"field": "v", "type": "quantitative"}, "y2": {"field": "u"}}},
            {"transform": [{"filter": "isValid(datum.u)"}], "mark": {"type": "tick", "thickness": 1.5, "size": 8}, "encoding": {"y": {"field": "u", "type": "quantitative"}}},
            {"transform": [{"filter": "isValid(datum.s)"}], "mark": {"type": "text", "baseline": "bottom", "dy": -2, "fontWeight": "bold", "fontSize": 10.5}, "encoding": {"y": {"field": "u", "type": "quantitative"}, "text": {"field": "s"}, "color": {"value": "#000"}}}
          ]
        }
      ]
    }
  ]
}
